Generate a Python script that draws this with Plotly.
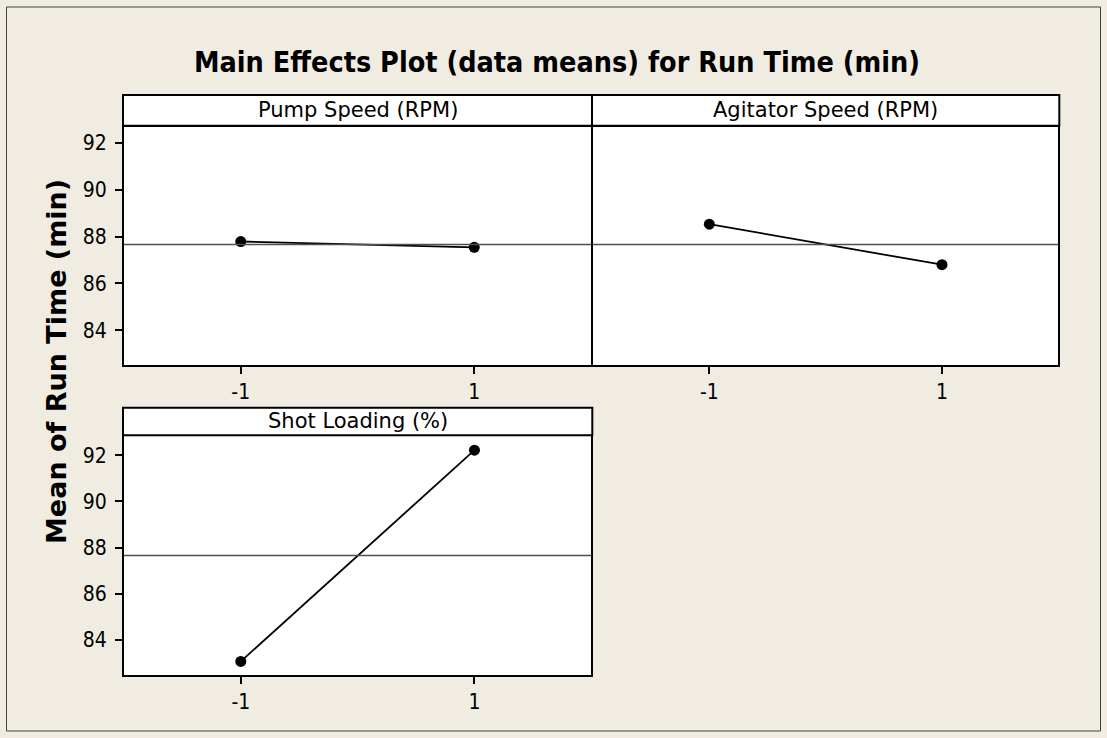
import plotly.graph_objects as go

# ---------------- data ----------------
factors = ["Pump Speed (RPM)", "Agitator Speed (RPM)", "Shot Loading (%)"]
levels = [-1, 1]
level_labels = ["-1", "1"]
pump_means = [87.79, 87.54]
agitator_means = [88.53, 86.80]
shot_means = [83.07, 92.22]
grand_mean = 87.66
y_ticks = [84, 86, 88, 90, 92]
title_text = "Main Effects Plot (data means) for Run Time (min)"
ylabel_text = "Mean of Run Time (min)"

# ---------------- layout helpers ----------------
W, H = 1107, 738
def px(x):
    return x / W
def py(y):
    return 1 - y / H

BG = "#F0ECE2"
FONT = "DejaVu Sans Condensed, Liberation Sans, Arial, sans-serif"
FONT_WIDE = "DejaVu Sans, Liberation Sans, Arial, sans-serif"

panels = [
    # (x0 line, x1 line, header_top, plot_top, plot_bottom, yrange, data, show_y)
    (123, 592, 95, 125.7, 366, [82.52, 92.69], pump_means, True),
    (592, 1059.3, 95, 125.7, 366, [82.52, 92.69], agitator_means, False),
    (123, 592.3, 407.7, 435.3, 676, [82.48, 92.82], shot_means, True),
]

fig = go.Figure()
shapes = []
annotations = []

for i, (x0, x1, ht, pt, pb, yr, vals, show_y) in enumerate(panels):
    n = "" if i == 0 else str(i + 1)
    # axis lines (width 2) are drawn just outside the domain; inset by 1px
    dx0, dx1 = x0 + 1, x1 - 1
    fig.add_trace(go.Scatter(
        x=levels, y=vals, mode="lines+markers",
        line=dict(color="black", width=1.8),
        marker=dict(color="black", size=11),
        xaxis="x" + n, yaxis="y" + n, showlegend=False, hoverinfo="x+y",
    ))
    ax = dict(
        domain=[px(dx0), px(dx1)], range=[-2, 2], tickvals=levels, ticktext=level_labels,
        showline=True, mirror=True, linecolor="black", linewidth=2,
        ticks="outside", ticklen=7, tickwidth=1.5, tickcolor="black",
        showgrid=False, zeroline=False, fixedrange=True,
        tickfont=dict(family=FONT, size=21, color="black"),
        anchor="y" + n,
    )
    ay = dict(
        domain=[py(pb - 1), py(pt + 1)], range=yr,
        showline=True, mirror=True, linecolor="black", linewidth=2,
        showgrid=False, zeroline=False, fixedrange=True,
        tickfont=dict(family=FONT, size=21, color="black"),
        anchor="x" + n,
    )
    if show_y:
        ay.update(tickvals=y_ticks, ticks="outside", ticklen=7, tickwidth=1.5,
                  tickcolor="black", showticklabels=True, ticklabelstandoff=4)
    else:
        ay.update(tickvals=[], ticks="", showticklabels=False)
    fig.update_layout({"xaxis" + n: ax, "yaxis" + n: ay})

    # grand mean reference line
    shapes.append(dict(type="line", xref="x" + n + " domain", yref="y" + n,
                       x0=0, x1=1, y0=grand_mean, y1=grand_mean,
                       line=dict(color="#505050", width=1.5), layer="above"))
    # header strip
    shapes.append(dict(type="rect", xref="paper", yref="paper",
                       x0=px(x0), x1=px(x1), y0=py(pt), y1=py(ht),
                       fillcolor="white", line=dict(color="black", width=2)))
    annotations.append(dict(text=factors[i], xref="paper", yref="paper",
                            x=(px(x0) + px(x1)) / 2, y=(py(pt) + py(ht)) / 2,
                            xanchor="center", yanchor="middle", showarrow=False,
                            font=dict(family=FONT_WIDE, size=21, color="black")))

# outer frame
shapes.append(dict(type="rect", xref="paper", yref="paper",
                   x0=px(6.5), x1=px(1100.5), y0=py(731), y1=py(7),
                   fillcolor="rgba(0,0,0,0)", line=dict(color="#404040", width=1)))

annotations.append(dict(text="<b>" + title_text + "</b>", xref="paper", yref="paper",
                        x=px(557), y=py(62), xanchor="center", yanchor="middle",
                        showarrow=False, font=dict(family=FONT, size=28.5, color="black")))
annotations.append(dict(text="<b>" + ylabel_text + "</b>", xref="paper", yref="paper",
                        x=px(56), y=py(362), xanchor="center", yanchor="middle",
                        textangle=-90, showarrow=False,
                        font=dict(family=FONT_WIDE, size=27, color="black")))

fig.update_layout(
    width=W, height=H, margin=dict(l=0, r=0, t=0, b=0),
    paper_bgcolor=BG, plot_bgcolor="white",
    shapes=shapes, annotations=annotations, showlegend=False,
)

fig.write_html("out.html", config={"displayModeBar": False},
               post_script="document.body.style.margin='0';document.body.style.overflow='hidden';")
